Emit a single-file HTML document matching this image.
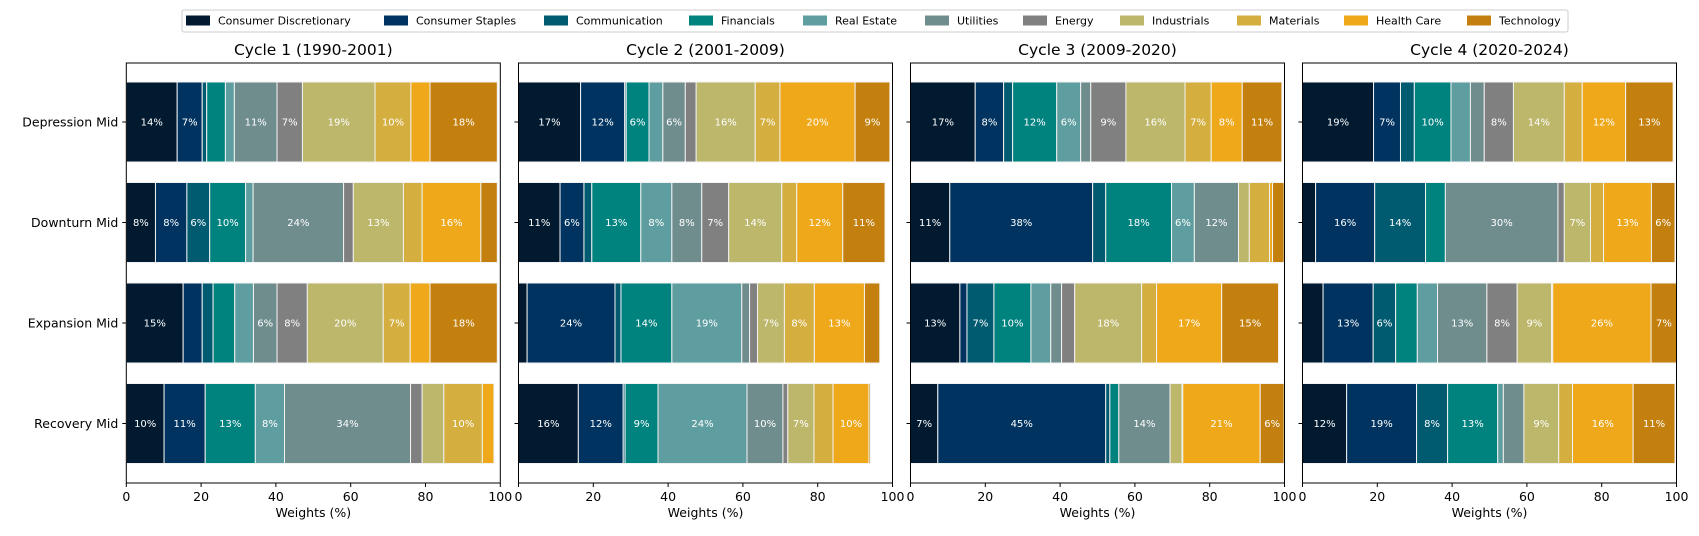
<!DOCTYPE html>
<html><head><meta charset="utf-8"><style>
body{margin:0;background:#fff;}
svg{display:block;font-family:"DejaVu Sans","Liberation Sans",sans-serif;}
</style></head><body>
<svg id="chart" width="1699" height="536"></svg>
<script>
const sectors=["Consumer Discretionary","Consumer Staples","Communication","Financials","Real Estate","Utilities","Energy","Industrials","Materials","Health Care","Technology"];
const colors=["#011a30","#00335f","#005a70","#00827f","#5f9ea0","#708d8e","#808080","#bdb76b","#d4af3f","#eea81a","#c4800e"];
const phases=["Depression Mid","Downturn Mid","Expansion Mid","Recovery Mid"];
const cycles=["Cycle 1 (1990-2001)","Cycle 2 (2001-2009)","Cycle 3 (2009-2020)","Cycle 4 (2020-2024)"];
const xTicks=[0,20,40,60,80,100];
const cycle1=[[13.6,6.7,1.2,5.0,2.4,11.4,6.8,19.4,9.6,5.1,18.0],[7.8,8.4,6.1,9.6,2.0,24.2,2.6,13.4,5.0,15.7,4.4],[15.2,5.1,2.9,5.8,5.0,6.3,8.1,20.3,7.2,5.3,18.0],[10.1,11.0,0,13.4,7.8,33.7,3.1,5.8,10.3,3.1,0]];
const cycle2=[[16.6,11.8,0.4,6.1,3.7,6.0,2.9,15.8,6.6,20.1,9.3],[11.1,6.4,2.1,13.1,8.3,8.0,7.2,14.2,4.0,12.3,11.3],[2.3,23.5,1.6,13.6,18.7,2.1,2.1,7.2,8.0,13.4,4.1],[16.0,12.0,0.5,8.8,23.8,9.6,1.3,7.0,5.1,9.6,0.4]];
const cycle3=[[17.3,7.6,2.4,11.8,6.4,2.7,9.4,15.8,7.0,8.3,10.6],[10.5,38.2,3.5,17.6,6.1,11.8,0,2.9,5.4,0.8,3.1],[13.2,1.9,7.2,9.9,5.3,2.9,3.5,17.9,4.0,17.4,15.2],[7.3,44.9,1.1,2.4,0,13.7,0,3.2,0.2,20.7,6.4]];
const cycle4=[[19.0,7.2,3.7,9.8,5.2,3.7,7.8,13.6,4.8,11.6,12.7],[3.5,15.8,13.6,5.3,0,30.1,1.7,7.0,3.5,12.8,6.3],[5.5,13.4,6.0,5.8,5.4,13.2,8.1,9.2,0.3,26.3,6.9],[11.8,18.7,8.3,13.4,1.5,5.5,0,9.3,3.7,16.2,11.2]];
const allCycles=[cycle1,cycle2,cycle3,cycle4];

const NS="http://www.w3.org/2000/svg";
const svg=document.getElementById('chart');
function mk(tag,attrs,parent){const e=document.createElementNS(NS,tag);for(const k in attrs)e.setAttribute(k,attrs[k]);(parent||svg).appendChild(e);return e;}
const panelX0=[126.3,518.5,910.5,1302.5];
const panelW=374;
const axTop=63, axBot=483;
function xScale(p,v){return panelX0[p]+v/100*panelW;}
function yScale(i){return 122+i*100.5;}
const barH=80;

const lg=mk('g',{});


const lb=mk('rect',{x:182,y:10,width:1386,height:22,rx:2,fill:'#fff',stroke:'#ccc','stroke-width':1},lg);


const legX=[186,384,544,689,803,925,1023,1120,1237,1344,1467];
sectors.forEach((s,k)=>{
  const g=mk('g',{},lg);
  
  
  mk('rect',{x:legX[k],y:15.5,width:24,height:10,fill:colors[k]},g);
  const t=mk('text',{x:legX[k]+32,y:24.5,'font-size':11,fill:'#000'},g);
  t.textContent=s;
});

allCycles.forEach((data,p)=>{
  const pg=mk('g',{});
  
  
  const title=mk('text',{x:panelX0[p]+panelW/2,y:55,'font-size':15.5,'text-anchor':'middle',fill:'#000'},pg);
  
  
  title.textContent=cycles[p];
  data.forEach((row,i)=>{
    let cum=0;
    row.forEach((v,k)=>{
      if(v<=0){return;}
      const x0=xScale(p,cum), x1=xScale(p,cum+v);
      const r=mk('rect',{x:x0,y:yScale(i)-barH/2,width:Math.max(0,x1-x0),height:barH,fill:colors[k],stroke:'#f2f2f2','stroke-width':1},pg);
      
      
      if(v>5.95){
        const t=mk('text',{x:(x0+x1)/2,y:yScale(i)+3.5,'font-size':10,'text-anchor':'middle',fill:'#fff'},pg);
        
        
        t.textContent=Math.round(v)+'%';
      }
      cum+=v;
    });
  });
  const fr=mk('rect',{x:panelX0[p],y:axTop,width:panelW,height:axBot-axTop,fill:'none',stroke:'#000','stroke-width':1},pg);
  
  
  xTicks.forEach(tv=>{
    const x=xScale(p,tv);
    mk('line',{x1:x,x2:x,y1:axBot,y2:axBot+4,stroke:'#000'},pg);
    const t=mk('text',{x:x,y:axBot+18,'font-size':12.5,'text-anchor':'middle',fill:'#000'},pg);
    
    
    t.textContent=tv;
  });
  const xl=mk('text',{x:panelX0[p]+panelW/2,y:axBot+34,'font-size':12.5,'text-anchor':'middle',fill:'#000'},pg);
  
  
  xl.textContent='Weights (%)';
  phases.forEach((ph,i)=>{
    mk('line',{x1:panelX0[p]-4,x2:panelX0[p],y1:yScale(i),y2:yScale(i),stroke:'#000'},pg);
    if(p===0){
      const t=mk('text',{x:panelX0[p]-8,y:yScale(i)+4.5,'font-size':12.5,'text-anchor':'end',fill:'#000'},pg);
      
      
      t.textContent=ph;
    }
  });
});
</script>
</body></html>
